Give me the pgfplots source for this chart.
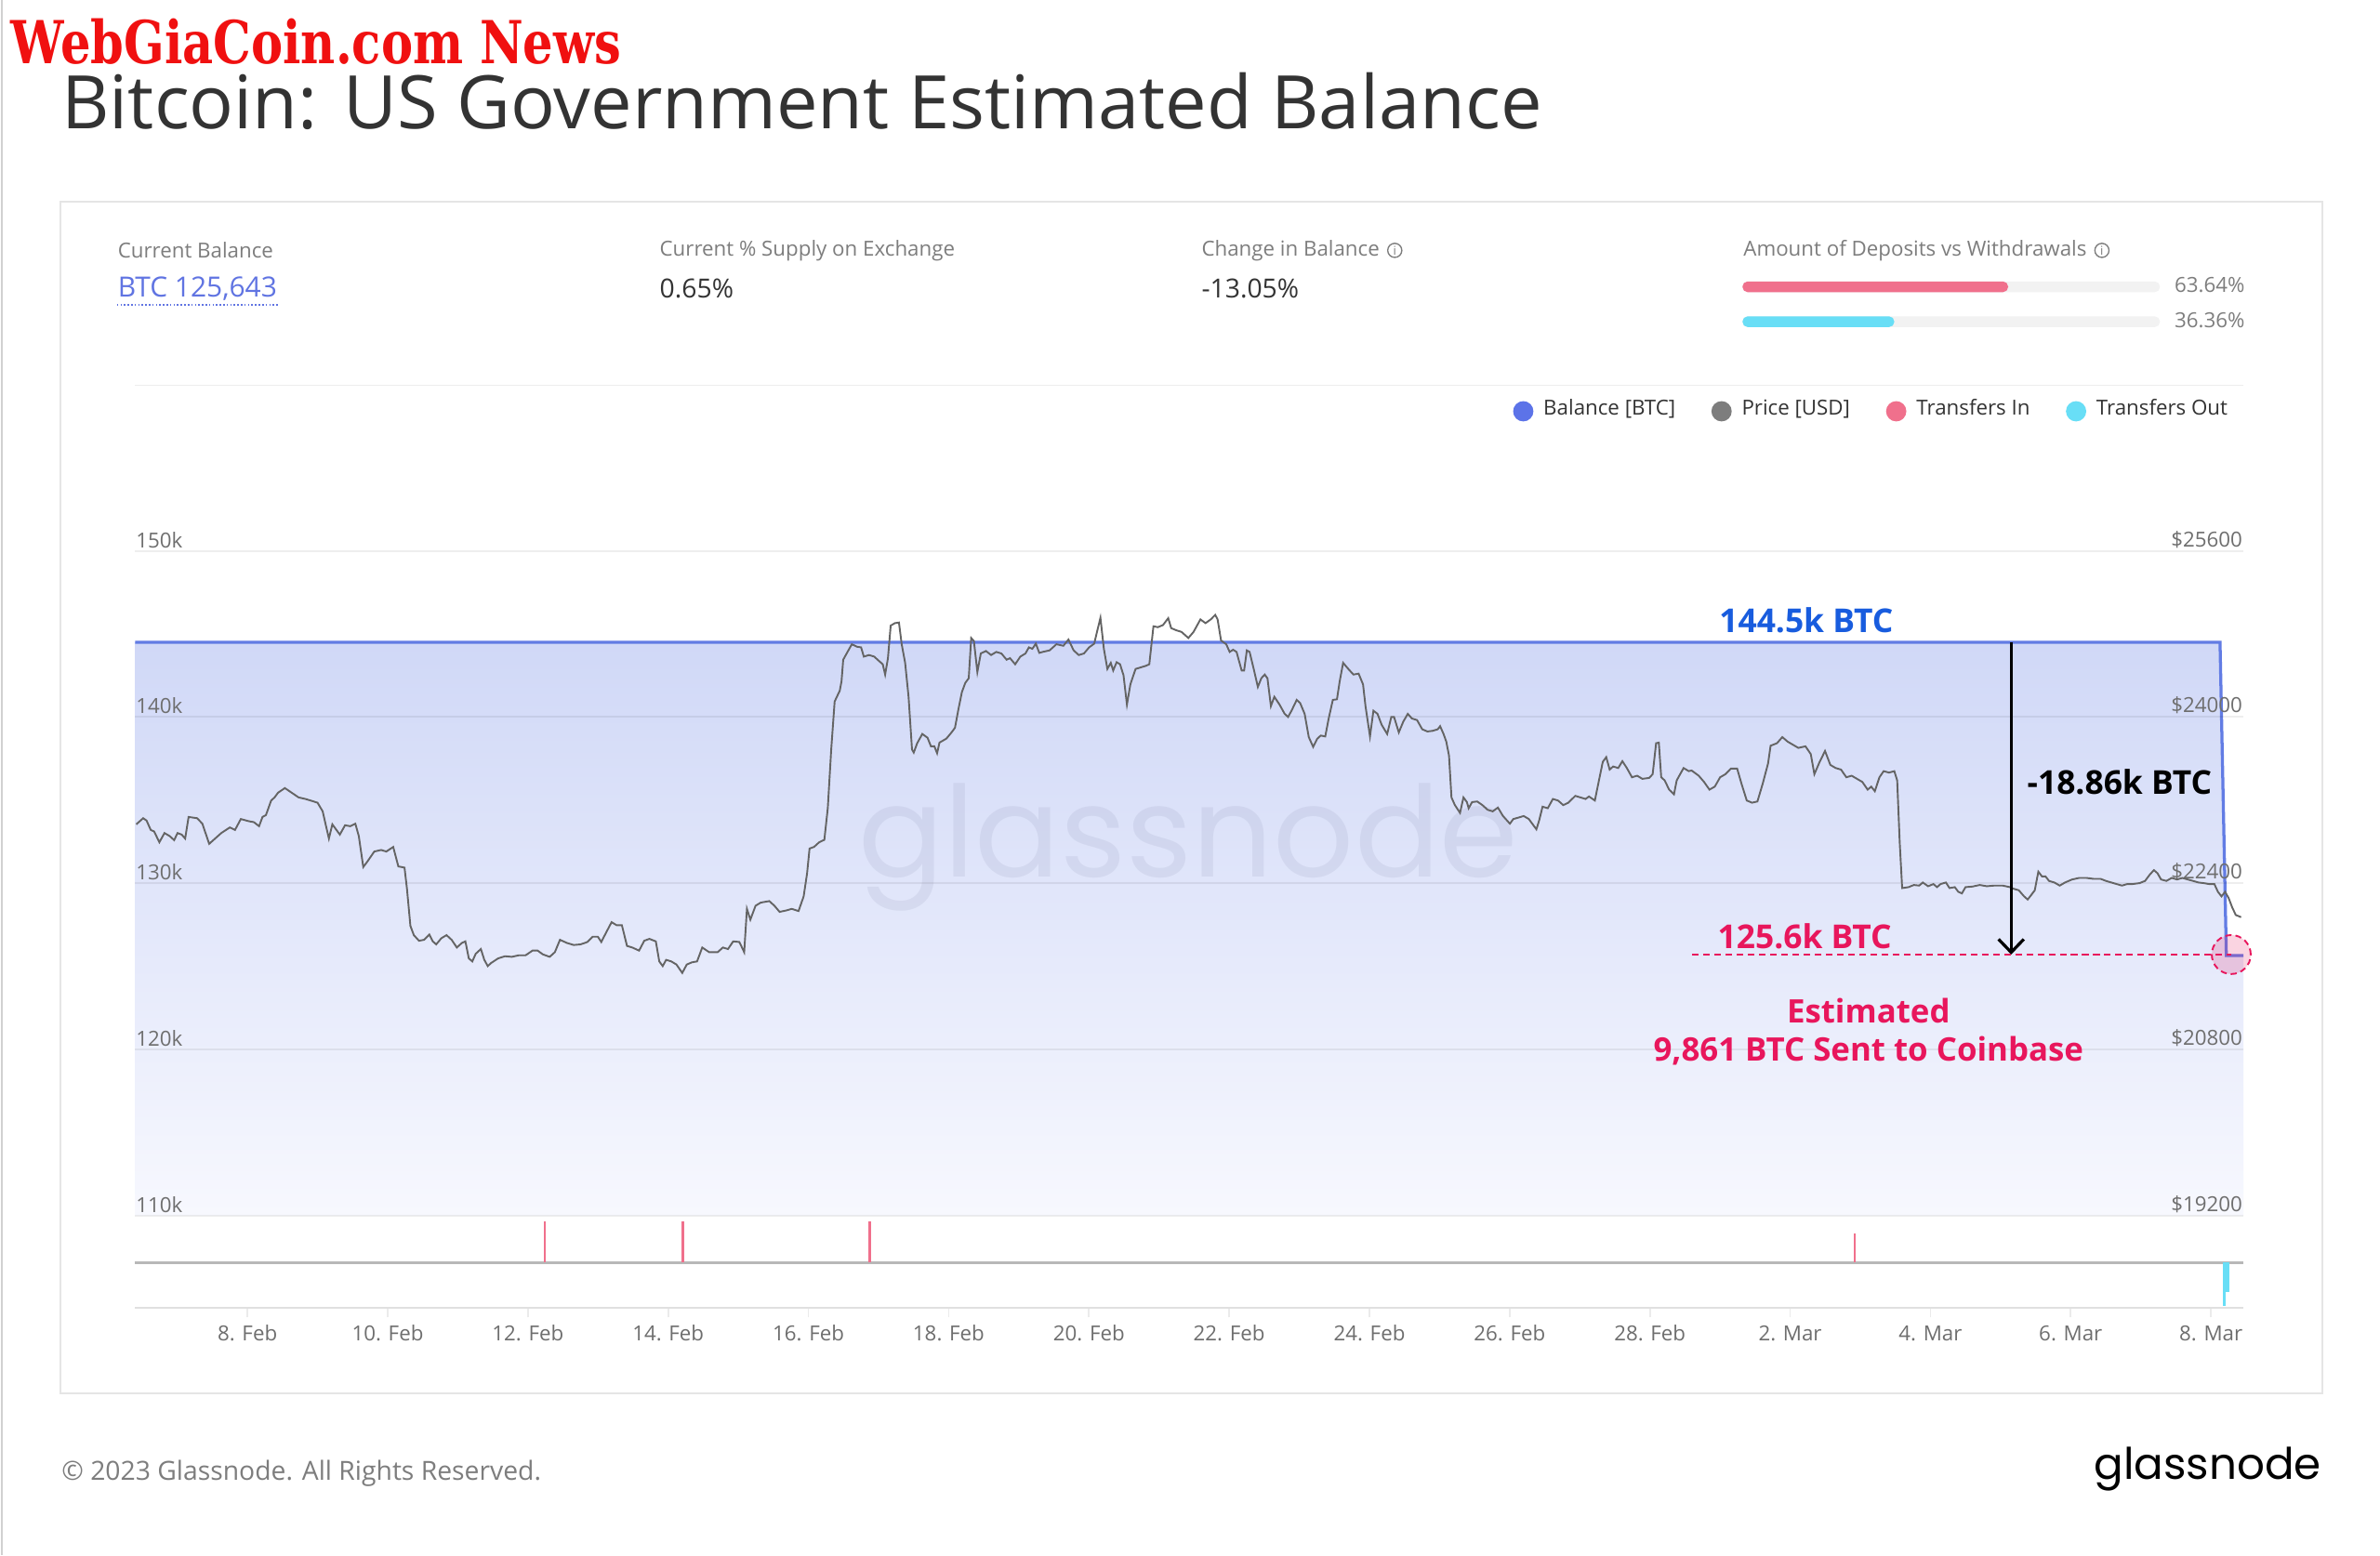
\documentclass[border=0pt]{standalone}
\usepackage{fontspec}
\setmainfont{Open Sans}
\newfontfamily\popfont{Poppins}
\newfontfamily\wmfont{DejaVu Serif}
\usepackage{pgfplots}
\pgfplotsset{compat=1.18}
\usetikzlibrary{arrows.meta}
\definecolor{balblue}{RGB}{98,124,228}
\definecolor{legblue}{RGB}{92,115,232}
\definecolor{filltop}{RGB}{208,216,247}
\definecolor{fillbot}{RGB}{247,248,254}
\definecolor{pricegray}{RGB}{100,100,100}
\definecolor{leggray}{RGB}{125,125,125}
\definecolor{inpink}{RGB}{240,112,140}
\definecolor{outcyan}{RGB}{104,222,246}
\definecolor{annblue}{RGB}{24,92,222}
\definecolor{annpink}{RGB}{232,22,92}
\definecolor{txtdark}{RGB}{51,51,51}
\definecolor{txtgray}{RGB}{125,125,125}
\definecolor{tickgray}{RGB}{110,110,110}
\definecolor{wmred}{RGB}{240,16,16}
\definecolor{btcblue}{RGB}{96,116,226}
\begin{document}
\begin{tikzpicture}
\begin{scope}[x=0.3pt,y=-0.3pt]
\useasboundingbox (0,0) rectangle (1568,1025);
\fill[white] (0,0) rectangle (1568,1025);
\draw[black!18, line width=0.4pt] (1,0) -- (1,1025);
\node[anchor=south west, inner sep=0pt, text=wmred] at (6.6,42.9) {\resizebox{120.6pt}{8.9pt}{\wmfont\bfseries WebGiaCoin.com News}};
\node[anchor=base west, inner sep=0pt, font=\fontsize{14.6}{16}\selectfont, text=txtdark] at (40,84.7) {Bitcoin: US Government Estimated Balance};
\draw[black!10, line width=0.35pt] (40,133) rectangle (1530,918);
\node[anchor=west, inner sep=0pt, font=\fontsize{4.1}{5}\selectfont, text=txtgray] at (77,165) {Current Balance};
\node[anchor=west, inner sep=0pt, font=\fontsize{5.5}{6}\selectfont, text=btcblue] at (77,190) {BTC 125,643};
\draw[btcblue, line width=0.3pt, dash pattern=on 0.3pt off 0.4pt] (77,201) -- (183,201);
\node[anchor=west, inner sep=0pt, font=\fontsize{4.1}{5}\selectfont, text=txtgray] at (434,165) {Current \% Supply on Exchange};
\node[anchor=west, inner sep=0pt, font=\fontsize{5.2}{6}\selectfont, text=txtdark] at (434,190) {0.65\%};
\node[anchor=west, inner sep=0pt, font=\fontsize{4.1}{5}\selectfont, text=txtgray] (cb) at (791,165) {Change in Balance};
\node[anchor=west, circle, draw=txtgray, line width=0.25pt, inner sep=0.35pt, font=\fontsize{2.4}{2.6}\selectfont, text=txtgray] at ([xshift=1.3pt]cb.east) {i};
\node[anchor=west, inner sep=0pt, font=\fontsize{5.2}{6}\selectfont, text=txtdark] at (791,190) {-13.05\%};
\node[anchor=west, inner sep=0pt, font=\fontsize{4.1}{5}\selectfont, text=txtgray] (dw) at (1148,165) {Amount of Deposits vs Withdrawals};
\node[anchor=west, circle, draw=txtgray, line width=0.25pt, inner sep=0.35pt, font=\fontsize{2.4}{2.6}\selectfont, text=txtgray] at ([xshift=1.3pt]dw.east) {i};
\node[anchor=west, inner sep=0pt, font=\fontsize{4.1}{5}\selectfont, text=txtgray] at (1432,188) {63.64\%};
\node[anchor=west, inner sep=0pt, font=\fontsize{4.1}{5}\selectfont, text=txtgray] at (1432,211) {36.36\%};
\draw[black!7, line width=0.3pt] (89,254) -- (1478,254);
\end{scope}
% deposits vs withdrawals bars
\begin{axis}[at={(344.4pt,-70.5pt)}, anchor=south west, scale only axis, width=82.5pt, height=20.7pt,
  xmin=0, xmax=100, ymin=0, ymax=3, hide axis, xbar, bar width=2.1pt, clip=false]
\addplot[draw=none, fill=black!5, bar shift=0pt, rounded corners=1pt] coordinates {(100,1) (100,2)};
\addplot[draw=none, fill=inpink, bar shift=0pt, rounded corners=1pt] coordinates {(63.64,2)};
\addplot[draw=none, fill=outcyan, bar shift=0pt, rounded corners=1pt] coordinates {(36.36,1)};
\end{axis}
% main balance axis
\begin{axis}[at={(26.7pt,-240.3pt)}, anchor=south west, scale only axis, width=416.7pt, height=131.4pt,
  xmin=6.398, xmax=36.463, ymin=110000, ymax=150000,
  axis line style={draw=none}, xtick=\empty,
  ytick={110000,120000,130000,140000,150000}, yticklabels={110k,120k,130k,140k,150k},
  scaled y ticks=false, major tick length=0pt,
  ymajorgrids, major grid style={draw=black, opacity=0.065, line width=0.35pt},
  yticklabel style={anchor=south west, inner sep=0pt, yshift=0.4pt, font=\fontsize{4.1}{5}\selectfont, text=tickgray},
  axis on top]
\addplot[draw=none, top color=filltop, bottom color=fillbot] coordinates {(6.398,110000) (6.398,144500) (36.13,144500) (36.22,125643) (36.463,125643) (36.463,110000)} -- cycle;
\addplot[balblue, line width=0.6pt] coordinates {(6.398,144500) (36.13,144500) (36.22,125643) (36.463,125643)};
\end{axis}
\begin{scope}[x=0.3pt,y=-0.3pt]
\node[anchor=base, inner sep=0pt, font=\popfont\fontsize{25}{25}\selectfont, text={rgb,255:red,110;green,115;blue,150}, opacity=0.11] at (783,578) {glassnode};
\end{scope}
% price axis
\begin{axis}[at={(26.7pt,-240.3pt)}, anchor=south west, scale only axis, width=416.7pt, height=131.4pt,
  xmin=6.398, xmax=36.463, ymin=19200, ymax=25600,
  axis line style={draw=none}, xtick=\empty,
  ytick={19200,20800,22400,24000,25600}, yticklabels={\$19200,\$20800,\$22400,\$24000,\$25600},
  yticklabel pos=right, scaled y ticks=false, major tick length=0pt,
  yticklabel style={anchor=south east, inner sep=0pt, yshift=0.4pt, font=\fontsize{4.1}{5}\selectfont, text=tickgray},
  legend style={at={(0.9978,1.210)}, anchor=east, draw=none, fill=none, inner sep=0pt,
    legend columns=4, font=\fontsize{4.1}{4.8}\selectfont, text=txtdark,
    /tikz/every even column/.append style={column sep=5.1pt}},
  legend image code/.code={\fill[#1] (0.4pt,0pt) circle (1.8pt);}]
\addplot[forget plot, pricegray, line width=0.35pt] table[x=d, y=p] {
d p
6.415 22967
6.513 23026
6.562 23003
6.621 22913
6.670 22898
6.744 22794
6.817 22883
6.891 22854
6.955 22815
7.004 22883
7.063 22868
7.112 22830
7.161 23038
7.283 23026
7.357 22973
7.455 22779
7.529 22824
7.627 22883
7.749 22937
7.823 22913
7.906 23018
8.019 22997
8.092 22988
8.166 22949
8.215 23038
8.264 23056
8.338 23196
8.387 23226
8.436 23271
8.534 23316
8.632 23271
8.730 23226
8.828 23211
8.902 23196
9.000 23175
9.073 23092
9.113 22973
9.162 22830
9.211 22967
9.269 22913
9.318 22868
9.392 22958
9.466 22949
9.539 22973
9.588 22854
9.652 22556
9.711 22609
9.809 22705
9.907 22720
9.980 22705
10.079 22749
10.152 22562
10.240 22550
10.275 22347
10.324 21989
10.373 21900
10.446 21846
10.520 21855
10.594 21906
10.643 21840
10.692 21811
10.765 21870
10.839 21900
10.912 21855
10.986 21781
11.059 21825
11.108 21840
11.157 21676
11.207 21647
11.256 21721
11.329 21766
11.378 21662
11.427 21602
11.476 21632
11.575 21676
11.673 21697
11.771 21691
11.869 21706
11.967 21706
12.065 21751
12.139 21751
12.212 21715
12.310 21691
12.384 21736
12.457 21855
12.555 21825
12.653 21805
12.751 21811
12.849 21834
12.923 21885
12.997 21885
13.046 21834
13.119 21930
13.193 22025
13.266 21995
13.340 21995
13.413 21796
13.487 21781
13.585 21751
13.659 21846
13.732 21864
13.824 21840
13.873 21647
13.922 21602
13.971 21662
14.044 21647
14.118 21617
14.201 21536
14.265 21617
14.338 21638
14.412 21647
14.486 21781
14.584 21736
14.706 21736
14.780 21781
14.853 21766
14.927 21840
15.015 21834
15.084 21736
15.123 22153
15.172 22049
15.246 22183
15.319 22213
15.442 22228
15.515 22183
15.589 22124
15.687 22138
15.761 22153
15.859 22132
15.932 22273
15.981 22496
16.016 22734
16.079 22749
16.153 22794
16.227 22818
16.276 23122
16.325 23688
16.374 24150
16.447 24254
16.472 24344
16.496 24552
16.545 24612
16.619 24701
16.692 24677
16.751 24671
16.790 24582
16.864 24597
16.938 24582
17.011 24537
17.060 24508
17.094 24409
17.134 24567
17.173 24880
17.232 24904
17.291 24910
17.330 24701
17.379 24522
17.428 24195
17.477 23688
17.502 23658
17.551 23748
17.624 23837
17.698 23801
17.747 23718
17.796 23718
17.835 23652
17.869 23754
17.967 23792
18.041 23852
18.090 23897
18.139 24075
18.188 24239
18.237 24329
18.286 24373
18.321 24761
18.360 24731
18.409 24433
18.458 24612
18.531 24636
18.605 24597
18.679 24627
18.752 24612
18.826 24552
18.875 24567
18.948 24508
19.022 24582
19.095 24612
19.144 24671
19.193 24657
19.243 24707
19.292 24618
19.341 24627
19.439 24642
19.537 24701
19.635 24686
19.708 24746
19.782 24642
19.855 24597
19.929 24612
20.003 24671
20.076 24707
20.115 24820
20.164 24955
20.213 24657
20.263 24463
20.312 24522
20.346 24448
20.395 24528
20.444 24508
20.493 24403
20.542 24120
20.591 24314
20.665 24463
20.738 24478
20.812 24493
20.861 24508
20.920 24874
20.983 24865
21.057 24886
21.131 24952
21.173 24856
21.247 24835
21.320 24820
21.418 24761
21.492 24820
21.590 24940
21.663 24904
21.737 24940
21.801 24984
21.835 24940
21.884 24737
21.958 24701
22.007 24627
22.056 24648
22.105 24627
22.178 24448
22.213 24448
22.252 24642
22.291 24627
22.350 24463
22.409 24290
22.458 24373
22.507 24409
22.546 24373
22.595 24105
22.644 24195
22.718 24120
22.791 24031
22.840 24001
22.889 24061
22.963 24165
23.012 24135
23.076 24031
23.135 23807
23.198 23712
23.257 23792
23.306 23822
23.370 23813
23.419 23986
23.478 24165
23.537 24171
23.576 24344
23.625 24522
23.699 24463
23.772 24409
23.846 24418
23.909 24314
23.944 24105
24.008 23813
24.057 24061
24.115 24031
24.174 23926
24.253 23837
24.312 24001
24.351 24001
24.419 23852
24.483 23956
24.547 24031
24.606 23986
24.679 23971
24.753 23882
24.827 23861
24.900 23867
24.974 23882
25.008 23912
25.057 23837
25.096 23763
25.135 23628
25.170 23226
25.219 23152
25.292 23077
25.341 23226
25.390 23181
25.415 23122
25.464 23181
25.537 23187
25.611 23152
25.685 23107
25.758 23092
25.832 23128
25.905 23047
26.003 22973
26.052 23018
26.126 23032
26.200 23047
26.273 23018
26.322 22973
26.381 22919
26.420 23003
26.469 23137
26.543 23122
26.616 23211
26.690 23196
26.764 23152
26.837 23175
26.935 23241
27.009 23226
27.082 23211
27.131 23235
27.215 23196
27.264 23360
27.328 23569
27.377 23614
27.426 23494
27.475 23524
27.548 23509
27.607 23575
27.671 23509
27.744 23420
27.818 23435
27.892 23405
27.990 23414
28.039 23450
28.088 23748
28.127 23754
28.161 23420
28.210 23390
28.274 23301
28.343 23256
28.382 23390
28.431 23450
28.480 23509
28.554 23479
28.595 23485
28.696 23435
28.772 23375
28.849 23301
28.925 23330
29.001 23420
29.077 23450
29.153 23503
29.244 23503
29.305 23360
29.381 23196
29.457 23175
29.533 23187
29.609 23360
29.685 23554
29.721 23724
29.812 23748
29.888 23807
29.964 23763
30.040 23733
30.116 23703
30.218 23718
30.294 23643
30.345 23450
30.421 23569
30.497 23673
30.573 23539
30.649 23509
30.725 23494
30.801 23420
30.877 23435
30.953 23405
31.029 23375
31.105 23301
31.156 23330
31.207 23286
31.273 23420
31.333 23479
31.409 23465
31.485 23479
31.526 23390
31.562 22794
31.597 22353
31.688 22362
31.764 22383
31.840 22377
31.891 22407
31.967 22371
32.043 22392
32.094 22362
32.145 22392
32.221 22407
32.272 22353
32.348 22362
32.398 22317
32.449 22302
32.500 22362
32.601 22368
32.703 22383
32.804 22371
32.905 22377
33.032 22377
33.134 22362
33.184 22347
33.260 22332
33.336 22273
33.387 22243
33.438 22287
33.488 22332
33.539 22511
33.590 22466
33.641 22466
33.691 22422
33.767 22407
33.844 22377
33.920 22407
34.021 22436
34.122 22451
34.224 22451
34.325 22442
34.427 22442
34.503 22422
34.579 22407
34.655 22392
34.731 22377
34.807 22392
34.883 22392
34.984 22401
35.061 22422
35.126 22481
35.187 22526
35.238 22496
35.289 22436
35.365 22422
35.441 22451
35.517 22436
35.593 22451
35.669 22436
35.745 22422
35.821 22407
35.897 22401
35.973 22392
36.049 22392
36.100 22317
36.151 22273
36.202 22317
36.252 22258
36.303 22168
36.354 22094
36.430 22073
};
\addlegendimage{legblue}\addlegendentry{Balance [BTC]}
\addlegendimage{leggray}\addlegendentry{Price [USD]}
\addlegendimage{inpink}\addlegendentry{Transfers In}
\addlegendimage{outcyan}\addlegendentry{Transfers Out}
\end{axis}
% transfers axis
\begin{axis}[at={(26.7pt,-258.6pt)}, anchor=south west, scale only axis, width=416.7pt, height=18.3pt,
  xmin=6.398, xmax=36.463, ymin=-0.97, ymax=1,
  axis x line*=bottom, axis y line=none, x axis line style={draw=black!12, line width=0.35pt, -},
  xtick={8,10,12,14,16,18,20,22,24,26,28,30,32,34,36},
  xticklabels={8. Feb,10. Feb,12. Feb,14. Feb,16. Feb,18. Feb,20. Feb,22. Feb,24. Feb,26. Feb,28. Feb,2. Mar,4. Mar,6. Mar,8. Mar},
  tick align=outside, major tick length=1.8pt, tick style={draw=black!8, line width=0.3pt},
  xticklabel style={font=\fontsize{4.1}{5}\selectfont, text=tickgray, yshift=1.9pt},
  clip=false]
\addplot[forget plot, black!28, line width=0.55pt] coordinates {(6.398,0) (36.463,0)};
\addplot[forget plot, ycomb, inpink, line width=0.5pt] coordinates {(12.24,0.87) (14.21,0.87) (16.87,0.87) (30.92,0.61)};
\addplot[forget plot, ycomb, outcyan, line width=0.4pt] coordinates {(36.19,-0.93)};
\addplot[forget plot, ycomb, outcyan, line width=1.3pt] coordinates {(36.215,-0.62)};
\end{axis}
\begin{scope}[x=0.3pt,y=-0.3pt]
\node[font=\bfseries\fontsize{6.5}{7}\selectfont, text=annblue] at (1190,409) {144.5k BTC};
\node[anchor=west, font=\bfseries\fontsize{6.5}{7}\selectfont, text=black, inner sep=0pt] at (1335,515) {-18.86k BTC};
\node[font=\bfseries\fontsize{6.5}{7}\selectfont, text=annpink] at (1189,617) {125.6k BTC};
\node[font=\bfseries\fontsize{6.4}{7.5}\selectfont, text=annpink, align=center] at (1231,680) {Estimated\\9,861 BTC Sent to Coinbase};
\draw[black, line width=0.6pt, -{Straight Barb[length=2.6pt,width=5pt]}] (1325,423) -- (1325,629);
\draw[annpink, line width=0.45pt, dash pattern=on 1.3pt off 0.9pt] (1115,629) -- (1470,629);
\draw[annpink, line width=0.35pt, fill=annpink, fill opacity=0.18, dash pattern=on 1.2pt off 0.8pt] (1470,629) circle (3.85pt);
\node[anchor=west, inner sep=0pt, font=\fontsize{5.2}{6}\selectfont, text=txtgray] at (40,971) {\textcopyright{} 2023 Glassnode. All Rights Reserved.};
\node[anchor=east, inner sep=0pt, font=\popfont\fontsize{8.6}{9}\selectfont, text=black] at (1530,968) {glassnode};
\end{scope}
\end{tikzpicture}
\end{document}
